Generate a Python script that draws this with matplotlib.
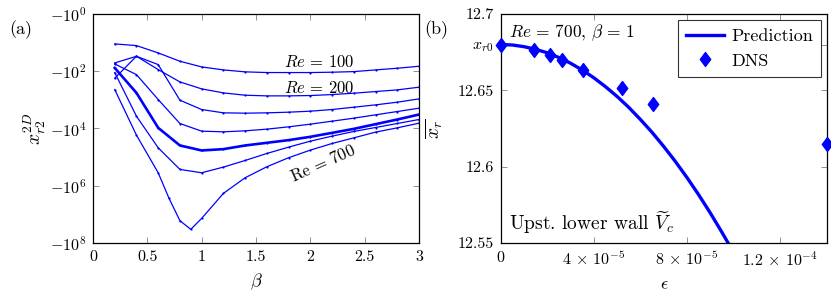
import numpy as np
import matplotlib
matplotlib.use("Agg")
import matplotlib.pyplot as plt
from matplotlib.path import Path

plt.rcParams['mathtext.fontset'] = 'cm'
plt.rcParams['font.family'] = 'serif'
plt.rcParams['font.serif'] = ['cmr10', 'DejaVu Serif']
plt.rcParams['axes.unicode_minus'] = False
plt.rcParams['axes.formatter.use_mathtext'] = True

# ---------------- data: panel (a) ----------------
beta = [0.2, 0.4, 0.6, 0.8, 1.0, 1.2, 1.4, 1.6, 1.8, 2.0, 2.2, 2.4, 2.6, 2.8, 3.0]
beta700 = [0.2, 0.4, 0.6, 0.7, 0.8, 0.9, 1.0, 1.2, 1.4, 1.6, 1.8, 2.0, 2.2, 2.4, 2.6, 2.8, 3.0]

x_re100 = [-11.1, -12.7, -22.9, -44.8, -70.6, -89.8, -105, -111, -111, -111, -108, -103, -89.8, -78.6, -66.9]
x_re200 = [-51.2, -30.0, -87.5, -236, -413, -570, -688, -725, -725, -706, -652, -585, -512, -448, -361]
x_re300 = [-175, -30.0, -58.5, -1028, -2173, -2838, -2917, -2838, -2692, -2484, -2173, -1803, -1494, -1206, -923]
x_re400 = [-55.5, -131, -973, -6693, -12393, -13070, -12060, -10550, -8750, -7060, -5550, -4360, -3337, -2553, -1953]
x_re500 = [-76.5, -570, -9480, -39170, -58500, -52600, -39200, -31600, -25500, -19500, -14200, -10300, -7060, -4850, -3250]
x_re600 = [-111, -3715, -47200, -269000, -352000, -223000, -131000, -74500, -44800, -27700, -18500, -12700, -9230, -6690, -4850]
x_re700 = [-436, -17100, -352000, -2.77e6, -1.66e7, -3.34e7, -1.38e7, -1.85e6, -526000, -217000,
           -105000, -57000, -33400, -21200, -13400, -9480, -6510]

ytick_exp = [0, 2, 4, 6, 8]
xticks_a = [0, 0.5, 1, 1.5, 2, 2.5, 3]

# ---------------- data: panel (b) ----------------
eps_dns = [0.0, 1.43e-5, 2.12e-5, 2.62e-5, 3.56e-5, 5.23e-5, 6.57e-5, 1.405e-4]
xr_dns = [12.680, 12.6766, 12.6729, 12.6701, 12.6635, 12.6515, 12.6410, 12.6148]
eps_pred = [0, 5e-6, 1e-5, 1.5e-5, 2e-5, 2.5e-5, 3e-5, 3.5e-5, 4e-5, 4.5e-5, 5e-5, 5.5e-5,
            6e-5, 6.5e-5, 7e-5, 7.5e-5, 8e-5, 8.5e-5, 9e-5, 9.5e-5, 1e-4]
xr_pred = [12.680, 12.6797, 12.6786, 12.6769, 12.6746, 12.6715, 12.6678, 12.6634, 12.6583,
           12.6525, 12.6461, 12.6390, 12.6311, 12.6227, 12.6135, 12.6037, 12.5932, 12.5820,
           12.5701, 12.5575, 12.5443]
xr0 = 12.68
xticks_b = [0, 4e-5, 8e-5, 1.2e-4]
xticklabels_b = ['$0$', r'$4\,\times\,10^{-5}$', r'$8\,\times\,10^{-5}$', r'$1.2\,\times\,10^{-4}$']
yticks_b = [12.55, 12.6, 12.65, 12.7]

blue = (0, 0, 1)
fs = 12
tfs = 11.5

fig = plt.figure(figsize=(8.31, 3.01), dpi=100)
axa = fig.add_axes([0.1119, 0.1927, 0.3923, 0.7608])
axb = fig.add_axes([0.6025, 0.1927, 0.393, 0.7608])

for ax in (axa, axb):
    ax.tick_params(direction='in', length=4, width=0.6, color='0.5', top=True, right=True,
                   labelsize=tfs, pad=5)
    for s in ax.spines.values():
        s.set_linewidth(0.9)

# panel (a)
series = [x_re100, x_re200, x_re300, x_re400, x_re500, x_re600]
for i, ys in enumerate(series):
    lw = 1.9 if i == 4 else 0.9
    axa.plot(beta, ys, color=blue, lw=lw, marker='o', ms=1.6, mew=0)
axa.plot(beta700, x_re700, color=blue, lw=0.9, marker='o', ms=1.6, mew=0)

axa.set_yscale('symlog', linthresh=0.01)
axa.set_ylim(-1e8, -1)
axa.set_yticks([-10.0**k for k in ytick_exp])
axa.set_yticklabels([r'$-10^{%d}$' % k for k in ytick_exp])
axa.yaxis.set_minor_locator(matplotlib.ticker.NullLocator())
axa.set_xlim(0, 3)
axa.set_xticks(xticks_a)
axa.set_xticklabels(['0', '0.5', '1', '1.5', '2', '2.5', '3'])
axa.set_xlabel(r'$\beta$', fontsize=fs + 1, labelpad=6)
axa.set_ylabel(r'$x_{r2}^{2D}$', fontsize=fs + 2, labelpad=1)

axa.text(2.08, -46, r'$Re\,=\,100$', fontsize=fs, ha='center', va='center')
axa.text(2.08, -400, r'$Re\,=\,200$', fontsize=fs, ha='center', va='center')
axa.text(2.11, -1.66e5, r'$\mathrm{Re}\,=\,700$', fontsize=fs, ha='center', va='center', rotation=24)
fig.text(0.025, 0.9, '(a)', fontsize=fs + 1, ha='center', va='center')

# panel (b)
diamond = Path([(0, 1), (0.75, 0), (0, -1), (-0.75, 0), (0, 1)],
               [Path.MOVETO, Path.LINETO, Path.LINETO, Path.LINETO, Path.CLOSEPOLY])
axb.plot(eps_pred, xr_pred, color=blue, lw=2.4, label='Prediction')
axb.plot(eps_dns, xr_dns, ls='none', marker=diamond, ms=10, color=blue, label='DNS',
         clip_on=False, zorder=5)
axb.set_xlim(0, 1.405e-4)
axb.set_ylim(12.55, 12.7)
axb.set_xticks(xticks_b)
axb.set_xticklabels(xticklabels_b)
axb.set_yticks(yticks_b + [xr0])
axb.set_yticklabels(['12.55', '12.6', '12.65', '12.7', '$x_{r0}$'])
axb.set_xlabel(r'$\epsilon$', fontsize=fs + 1, labelpad=6)
axb.set_ylabel(r'$\overline{x_r}$', fontsize=fs + 2, labelpad=9)
axb.text(0.025, 0.965, r'$Re\,=\,700,\,\beta\,=\,1$', transform=axb.transAxes, fontsize=12.5,
         ha='left', va='top')
axb.text(0.025, 0.03, r'Upst. lower wall $\widetilde{V}_c$', transform=axb.transAxes, fontsize=14,
         ha='left', va='bottom')
leg = axb.legend(loc='upper right', fontsize=13, frameon=True, fancybox=False, edgecolor='black',
                 borderpad=0.45, handlelength=2.1, handletextpad=0.4, labelspacing=0.5,
                 borderaxespad=0.35)
leg.get_frame().set_linewidth(0.8)
fig.text(0.525, 0.9, '(b)', fontsize=fs + 1, ha='center', va='center')

fig.savefig('out.png', dpi=100)
